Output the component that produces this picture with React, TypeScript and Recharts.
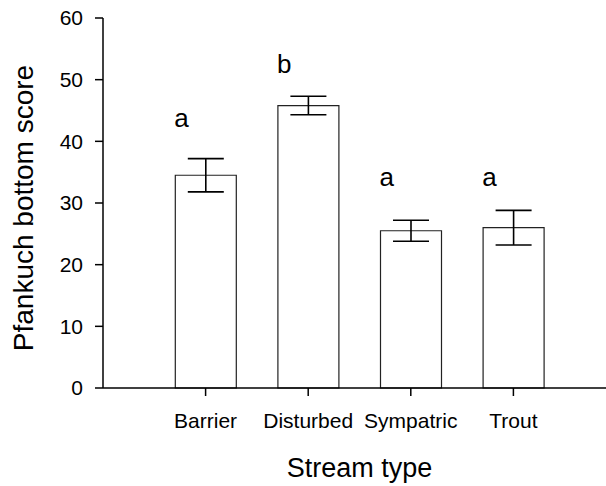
import {
  Bar,
  ComposedChart,
  ErrorBar,
  Scatter,
  XAxis,
  YAxis,
} from "recharts";

// Pfankuch bottom score by stream type, mean ± SE with group letters.
const streamTypes = ["Barrier", "Disturbed", "Sympatric", "Trout"];
const meanScore = [34.5, 45.8, 25.5, 26.0];
const seScore = [2.7, 1.5, 1.7, 2.8];
const groupLetters = ["a", "b", "a", "a"];
const letterHeight = [42.4, 51.1, 32.7, 32.7];
const yTicks = [0, 10, 20, 30, 40, 50, 60];

const FONT = '"Liberation Sans", Arial, Helvetica, sans-serif';

const data = streamTypes.map((name, i) => ({
  pos: i + 1,
  name,
  mean: meanScore[i],
  se: seScore[i],
  letter: groupLetters[i],
  letterY: letterHeight[i],
}));

function LetterMark(props: any) {
  const { cx, cy, payload } = props;
  if (cx == null || cy == null) return null;
  return (
    <text x={cx - 24} y={cy} textAnchor="middle" fontSize={26} fontFamily={FONT} fill="#000">
      {payload.letter}
    </text>
  );
}

function YTitle(props: any) {
  const { x, y, height } = props.viewBox;
  const cx = x + 23;
  const cy = y + height / 2 + 5;
  return (
    <text
      x={cx}
      y={cy}
      transform={`rotate(-90 ${cx} ${cy})`}
      textAnchor="middle"
      dominantBaseline="central"
      fontSize={28}
      fontFamily={FONT}
      fill="#000"
    >
      Pfankuch bottom score
    </text>
  );
}

export default function App() {
  return (
    <div style={{ position: "absolute", left: 0, top: 0, width: 606, height: 486, overflow: "hidden", background: "#fff" }}>
      <ComposedChart
        width={620}
        height={486}
        data={data}
        margin={{ top: 18, right: 4, left: 0, bottom: 8 }}
        style={{ fontFamily: FONT }}
      >
        <XAxis
          dataKey="pos"
          type="number"
          domain={[0, 5]}
          ticks={[1, 2, 3, 4]}
          tickFormatter={(v: number) => streamTypes[v - 1] ?? ""}
          tick={{ fill: "#000", fontSize: 21 }}
          tickSize={8}
          tickMargin={17}
          axisLine={{ stroke: "#000", strokeWidth: 1.5 }}
          tickLine={{ stroke: "#000", strokeWidth: 1.5 }}
          height={90}
          label={{ value: "Stream type", position: "insideBottom", offset: 1, fill: "#000", fontSize: 27 }}
        />
        <YAxis
          type="number"
          domain={[0, 60]}
          ticks={yTicks}
          tick={{ fill: "#000", fontSize: 21 }}
          tickSize={8}
          tickMargin={12}
          axisLine={{ stroke: "#000", strokeWidth: 1.5 }}
          tickLine={{ stroke: "#000", strokeWidth: 1.5 }}
          width={103}
          label={{ content: (p: any) => <YTitle {...p} /> }}
        />
        <Bar dataKey="mean" barSize={61} fill="#fff" stroke="#222" strokeWidth={1.2} isAnimationActive={false}>
          <ErrorBar dataKey="se" width={18} stroke="#000" strokeWidth={1.6} />
        </Bar>
        <Scatter dataKey="letterY" shape={<LetterMark />} isAnimationActive={false} />
      </ComposedChart>
    </div>
  );
}
